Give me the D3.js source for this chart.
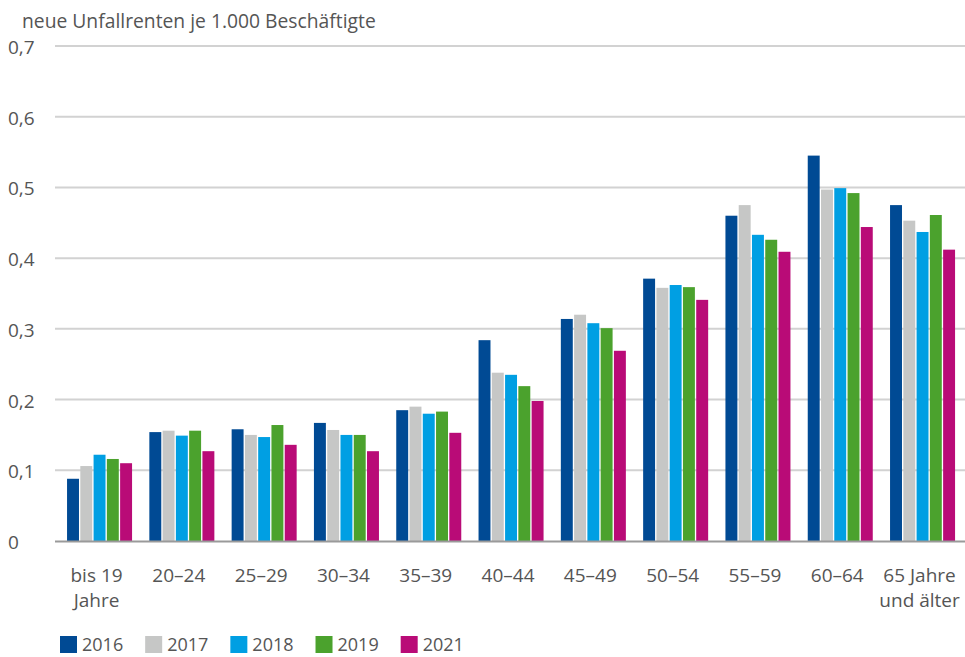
<!DOCTYPE html>
<html><head><meta charset="utf-8">
<script src="https://cdn.jsdelivr.net/npm/d3@7"></script>
<style>
html,body{margin:0;padding:0;background:#fff;}
svg{display:block;font-family:"Open Sans",sans-serif;}
</style></head>
<body><svg id="c" width="965" height="657"></svg>
<script>
const categories = ["bis 19|Jahre","20–24","25–29","30–34","35–39","40–44","45–49","50–54","55–59","60–64","65 Jahre|und älter"];
const years = ["2016","2017","2018","2019","2021"];
const colors = ["#004a94","#c6c7c6","#009fe3","#4ba22d","#b90b77"];
const v2016 = [0.088,0.154,0.158,0.167,0.185,0.284,0.314,0.371,0.460,0.545,0.475];
const v2017 = [0.106,0.156,0.150,0.157,0.190,0.238,0.320,0.358,0.475,0.497,0.453];
const v2018 = [0.122,0.149,0.147,0.150,0.180,0.235,0.308,0.362,0.433,0.499,0.437];
const v2019 = [0.116,0.156,0.164,0.150,0.183,0.219,0.301,0.359,0.426,0.492,0.461];
const v2021 = [0.110,0.127,0.136,0.127,0.153,0.198,0.269,0.341,0.409,0.444,0.412];
const series = [v2016,v2017,v2018,v2019,v2021];
const yTicks = [0,0.1,0.2,0.3,0.4,0.5,0.6,0.7];
const title = "neue Unfallrenten je 1.000 Beschäftigte";

const svg = d3.select("#c");
const y = d3.scaleLinear().domain([0,0.7]).range([541,46]);
const x0 = d3.scaleBand().domain(categories).range([58.4,963.7]).paddingInner(0.21).paddingOuter(0.105);
const x1 = d3.scaleBand().domain(years).range([0,x0.bandwidth()]).paddingInner(0.1);
const fmt = d => d===0 ? "0" : d3.format(".1f")(d).replace(".",",");

// grid
svg.append("g").selectAll("line").data(yTicks.filter(d=>d>0)).join("line")
  .attr("x1",55).attr("x2",965).attr("y1",d=>y(d)).attr("y2",d=>y(d))
  .attr("stroke","#d2d2d2").attr("stroke-width",2);

// y labels
svg.append("g").selectAll("text").data(yTicks).join("text")
  .attr("x",8).attr("y",d=>y(d)+8).attr("fill","#555").attr("font-size",19).text(fmt);

// title
svg.append("text").attr("x",22).attr("y",28).attr("fill","#555").attr("font-size",19.3).text(title);

// bars
const g = svg.append("g").selectAll("g").data(categories).join("g")
  .attr("transform",c=>`translate(${x0(c)},0)`);
g.selectAll("rect").data((c,i)=>years.map((yr,j)=>({yr,j,v:series[j][i]}))).join("rect")
  .attr("x",d=>x1(d.yr)).attr("width",x1.bandwidth())
  .attr("y",d=>y(d.v)).attr("height",d=>y(0)-y(d.v))
  .attr("fill",d=>colors[d.j]);

// baseline
svg.append("line").attr("x1",55).attr("x2",965).attr("y1",y(0)+0.5).attr("y2",y(0)+0.5)
  .attr("stroke","#9a9a9a").attr("stroke-width",2);

// x labels
const xl = svg.append("g").selectAll("text").data(categories).join("text")
  .attr("x",c=>x0(c)+x0.bandwidth()/2-3).attr("y",582)
  .attr("text-anchor","middle").attr("fill","#555").attr("font-size",19);
xl.each(function(c){
  const parts = c.split("|");
  d3.select(this).selectAll("tspan").data(parts).join("tspan")
    .attr("x",x0(c)+x0.bandwidth()/2-3).attr("dy",(d,i)=>i===0?0:25).text(d=>d);
});

// legend
let lx = 60;
const lg = svg.append("g");
years.forEach((yr,j)=>{
  lg.append("rect").attr("x",lx).attr("y",636).attr("width",17).attr("height",17).attr("fill",colors[j]);
  const t = lg.append("text").attr("x",lx+22).attr("y",651).attr("fill","#555").attr("font-size",18).text(yr);
  lx += 22 + t.node().getComputedTextLength() + 22;
});
</script></body></html>
